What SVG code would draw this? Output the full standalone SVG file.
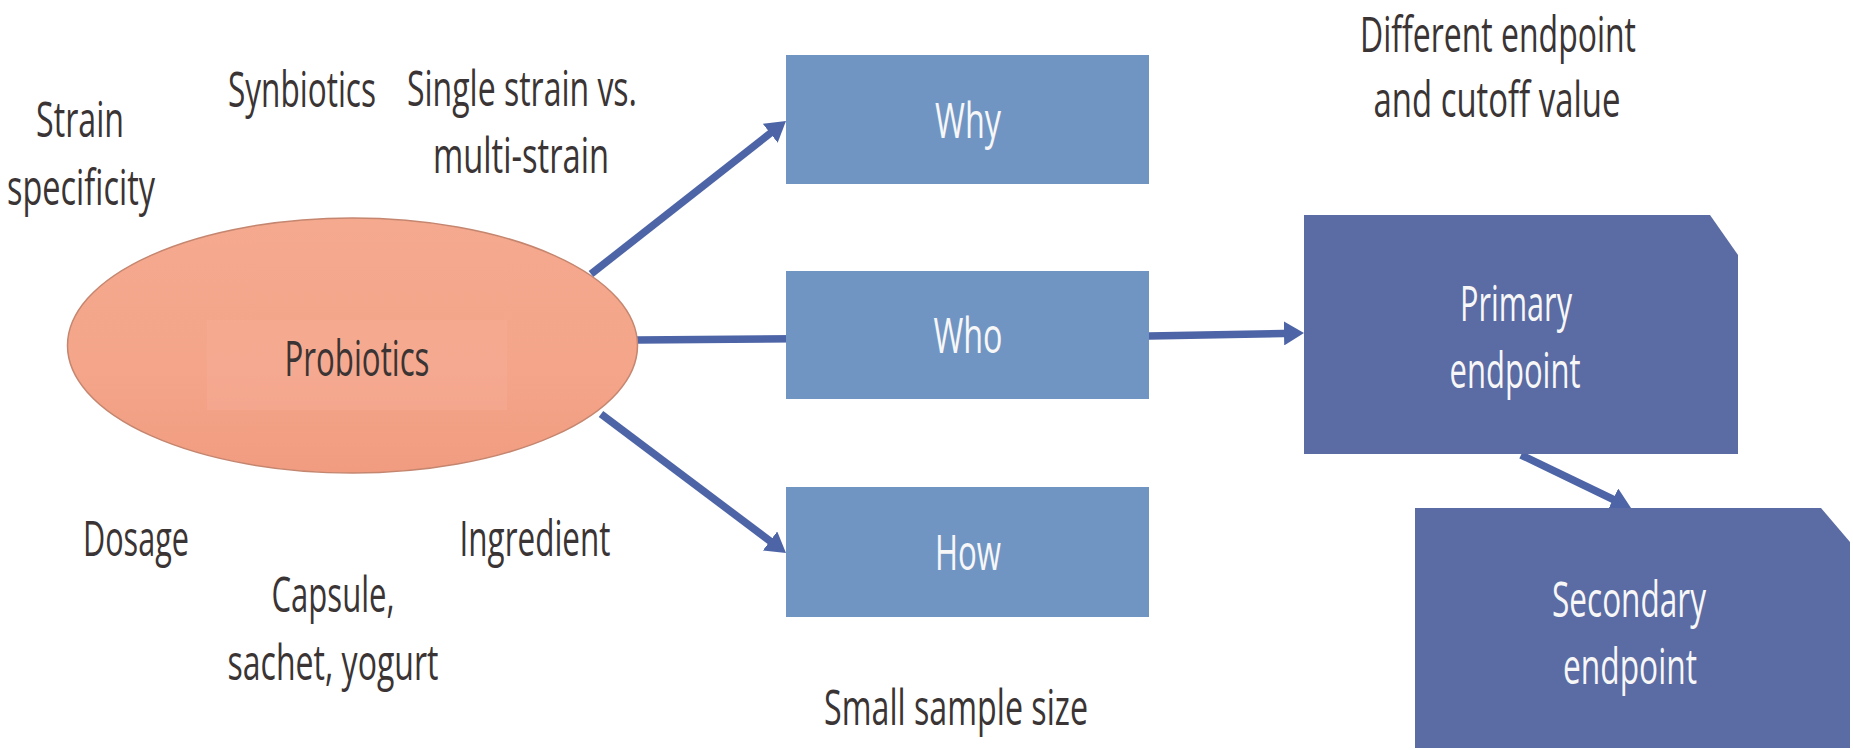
<svg xmlns="http://www.w3.org/2000/svg" width="1853" height="750" viewBox="0 0 1853 750">
<style>
.lbl{font-family:"Liberation Sans Narrow","Open Sans","Liberation Sans",sans-serif;font-size:50px;fill:#3a3434;text-anchor:middle}
.wt{font-family:"Liberation Sans Narrow","Open Sans","Liberation Sans",sans-serif;font-size:50px;fill:#f7f7f7;text-anchor:middle}
.box{fill:#7195c3}
.ep{fill:#5b6ba3}
.conn{stroke:#4d64a6;stroke-width:7.5;fill:none}
</style>
<defs>
<marker id="ah" markerUnits="userSpaceOnUse" markerWidth="20" markerHeight="24" refX="12" refY="12" orient="auto">
<path d="M0,0 L20,12 L0,24 z" fill="#4d64a6"/>
</marker>
<linearGradient id="eg" x1="0" y1="0" x2="0" y2="1">
<stop offset="0" stop-color="#f5a98e"/>
<stop offset="0.6" stop-color="#f4a58a"/>
<stop offset="1" stop-color="#f19c80"/>
</linearGradient>
</defs>
<rect width="1853" height="750" fill="#ffffff"/>
<g id="connectors">
<line class="conn" x1="591" y1="274" x2="779.7" y2="125.9" marker-end="url(#ah)"/>
<path class="conn" d="M637,340 L1149,336 L1296,333.2" marker-end="url(#ah)"/>
<line class="conn" x1="601" y1="414" x2="779.6" y2="548.2" marker-end="url(#ah)"/>
<line class="conn" x1="1521" y1="455" x2="1623.8" y2="504.5" marker-end="url(#ah)"/>
</g>
<g id="probiotics">
<ellipse cx="352.5" cy="345.5" rx="285" ry="127.5" fill="url(#eg)" stroke="#c58670" stroke-width="1.5"/>
<rect x="207" y="320" width="300" height="90" fill="#f7b29a" opacity="0.35"/>
<text class="lbl" transform="translate(357,376) scale(0.62,1)" textLength="233.9" lengthAdjust="spacingAndGlyphs">Probiotics</text>
</g>
<g id="why">
<rect class="box" x="786" y="55" width="363" height="129"/>
<text class="wt" transform="translate(968,138) scale(0.62,1)" textLength="106.5" lengthAdjust="spacingAndGlyphs">Why</text>
</g>
<g id="who">
<rect class="box" x="786" y="271" width="363" height="128"/>
<text class="wt" transform="translate(968,353) scale(0.62,1)" textLength="111.3" lengthAdjust="spacingAndGlyphs">Who</text>
</g>
<g id="how">
<rect class="box" x="786" y="487" width="363" height="130"/>
<text class="wt" transform="translate(968,570) scale(0.62,1)" textLength="106.5" lengthAdjust="spacingAndGlyphs">How</text>
</g>
<g id="primary">
<path class="ep" d="M1304,215 L1710,215 L1738,255 L1738,454 L1304,454 z"/>
<text class="wt" transform="translate(1516,321) scale(0.62,1)" textLength="180.6" lengthAdjust="spacingAndGlyphs">Primary</text>
<text class="wt" transform="translate(1515,388) scale(0.62,1)" textLength="211.3" lengthAdjust="spacingAndGlyphs">endpoint</text>
</g>
<g id="secondary">
<path class="ep" d="M1415,508 L1821,508 L1850,542 L1850,748 L1415,748 z"/>
<text class="wt" transform="translate(1629,617) scale(0.62,1)" textLength="248.4" lengthAdjust="spacingAndGlyphs">Secondary</text>
<text class="wt" transform="translate(1630,684) scale(0.62,1)" textLength="216.1" lengthAdjust="spacingAndGlyphs">endpoint</text>
</g>
<g id="labels">
<text class="lbl" transform="translate(80,137) scale(0.62,1)" textLength="141.9" lengthAdjust="spacingAndGlyphs">Strain</text>
<text class="lbl" transform="translate(81,205) scale(0.62,1)" textLength="238.7" lengthAdjust="spacingAndGlyphs">specificity</text>
<text class="lbl" transform="translate(302,107) scale(0.62,1)" textLength="238.7" lengthAdjust="spacingAndGlyphs">Synbiotics</text>
<text class="lbl" transform="translate(522,106) scale(0.62,1)" textLength="371" lengthAdjust="spacingAndGlyphs">Single strain vs.</text>
<text class="lbl" transform="translate(521,173) scale(0.62,1)" textLength="283.9" lengthAdjust="spacingAndGlyphs">multi-strain</text>
<text class="lbl" transform="translate(136,556) scale(0.62,1)" textLength="171" lengthAdjust="spacingAndGlyphs">Dosage</text>
<text class="lbl" transform="translate(535,556) scale(0.62,1)" textLength="243.5" lengthAdjust="spacingAndGlyphs">Ingredient</text>
<text class="lbl" transform="translate(333,612) scale(0.62,1)" textLength="198.4" lengthAdjust="spacingAndGlyphs">Capsule,</text>
<text class="lbl" transform="translate(333,680) scale(0.62,1)" textLength="340.3" lengthAdjust="spacingAndGlyphs">sachet, yogurt</text>
<text class="lbl" transform="translate(956,725) scale(0.62,1)" textLength="425.8" lengthAdjust="spacingAndGlyphs">Small sample size</text>
<text class="lbl" transform="translate(1498,52) scale(0.62,1)" textLength="445.2" lengthAdjust="spacingAndGlyphs">Different endpoint</text>
<text class="lbl" transform="translate(1497,117) scale(0.62,1)" textLength="398.4" lengthAdjust="spacingAndGlyphs">and cutoff value</text>
</g>
</svg>
